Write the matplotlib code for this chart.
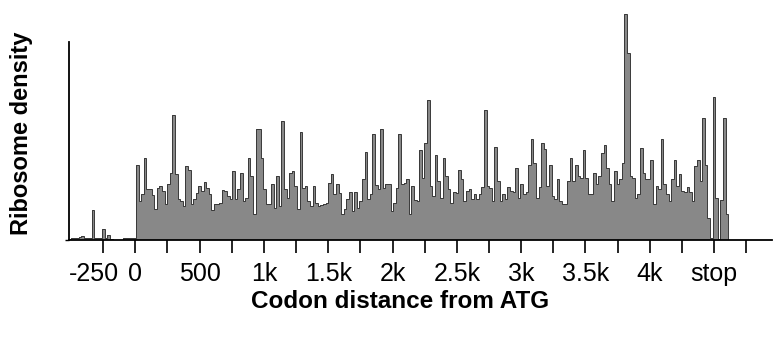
import numpy as np
import matplotlib
matplotlib.use('Agg')
import matplotlib.pyplot as plt
import matplotlib.transforms as mtransforms

plt.rcParams['font.family'] = ['Liberation Sans', 'DejaVu Sans']

# binned ribosome density (arbitrary units), one value per bin starting upstream of ATG
START = -520.0
BIN = 20.2
density = [
    1, 2, 2, 2, 3, 4, 2, 2, 2, 30, 2, 2, 2, 11, 2, 5, 1, 0.5, 0.5, 0.5,
    0.5, 2, 2, 2, 2, 2, 75, 39, 46, 82, 51, 51, 45, 31, 52, 54, 49, 36, 56, 67,
    125, 66, 41, 39, 34, 74, 70, 36, 41, 47, 54, 49, 58, 52, 46, 30, 36, 36, 37, 50,
    49, 44, 41, 69, 41, 51, 67, 39, 42, 82, 64, 26, 111, 111, 82, 51, 36, 36, 56, 32,
    64, 34, 119, 51, 42, 67, 69, 54, 31, 108, 52, 54, 39, 34, 54, 37, 34, 35, 36, 37,
    57, 66, 46, 56, 47, 26, 31, 41, 48, 29, 48, 32, 39, 61, 88, 41, 46, 106, 55, 51,
    111, 52, 56, 56, 29, 37, 52, 106, 56, 57, 61, 26, 54, 40, 39, 90, 62, 97, 140, 54,
    44, 85, 59, 42, 82, 64, 51, 37, 48, 47, 70, 61, 39, 49, 51, 41, 46, 41, 46, 53,
    130, 54, 52, 39, 93, 59, 39, 46, 41, 53, 49, 48, 72, 42, 56, 46, 48, 75, 101, 77,
    42, 53, 97, 91, 54, 75, 44, 41, 61, 39, 36, 36, 59, 82, 59, 75, 64, 62, 90, 62,
    46, 46, 67, 56, 64, 87, 95, 72, 56, 39, 69, 56, 61, 77, 226, 187, 64, 62, 42, 46,
    92, 67, 61, 61, 80, 36, 54, 51, 101, 56, 46, 39, 61, 80, 54, 66, 49, 48, 53, 48,
    39, 74, 80, 59, 122, 75, 22, 2, 143, 42, 1, 40, 122, 26, 0,
]

tick_pos = [-250, 0, 250, 500, 750, 1000, 1250, 1500, 1750, 2000, 2250, 2500,
            2750, 3000, 3250, 3500, 3750, 4000, 4250, 4500, 4750]
tick_lab = ['-250', '0', '', '500', '', '1k', '', '1.5k', '', '2k', '', '2.5k',
            '', '3k', '', '3.5k', '', '4k', '', 'stop', '']

W, H = 778, 344
fig = plt.figure(figsize=(W / 100, H / 100), dpi=100)
ax = fig.add_axes([69 / W, 1 - 240 / H, (772 - 69) / W, 229 / H])

vals = np.array(density, dtype=float)
edges = START + BIN * np.arange(len(vals) + 1)
ax.stairs(vals, edges, fill=True, color='#888888', linewidth=0)
ax.stairs(vals, edges, color='#383838', linewidth=0.7)

ax.set_xlim(-516, 4951)
ax.set_ylim(0, 229)

for s in ['top', 'right']:
    ax.spines[s].set_visible(False)
ax.spines['left'].set_bounds(0, 198)
ax.spines['left'].set_linewidth(1.3)
ax.spines['bottom'].set_linewidth(1.3)

ax.set_yticks([0])
ax.set_yticklabels([''])
ax.tick_params(axis='y', length=3, width=1)

ax.set_xticks(tick_pos)
ax.set_xticklabels(tick_lab)
ax.tick_params(axis='x', direction='out', length=9, width=1.2, labelsize=18, pad=7)
# nudge "-250" left so it does not crowd "0"
lab0 = ax.get_xticklabels()[0]
lab0.set_transform(lab0.get_transform() + mtransforms.ScaledTranslation(-9 / 100, 0, fig.dpi_scale_trans))

fig.text(400 / W, 1 - 302 / H, 'Codon distance from ATG', ha='center', va='center',
         fontsize=17.5, fontweight='bold')
fig.text(22 / W, 1 - 133 / H, 'Ribosome density', ha='center', va='center',
         rotation=90, fontsize=17, fontweight='bold')

fig.savefig('out.png', dpi=100)
